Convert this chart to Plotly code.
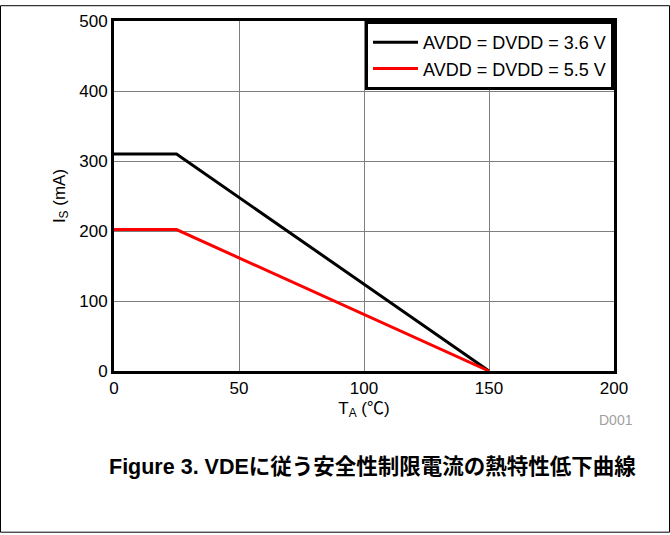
import plotly.graph_objects as go

# Safety limiting current vs ambient temperature
temp_c = [0, 25, 150]
is_36v = [310, 310, 0]
is_55v = [202, 202, 0]
series_names = ["AVDD = DVDD = 3.6 V", "AVDD = DVDD = 5.5 V"]
x_ticks = [0, 50, 100, 150, 200]
y_ticks = [0, 100, 200, 300, 400, 500]

W, H = 670, 535
ML, MR, MT, MB = 114, 56, 16, 164
PW, PH = W - ML - MR, H - MT - MB

FONT = "Liberation Sans, Arial, Noto Sans CJK JP, sans-serif"
TICK_SIZE = 17

fig = go.Figure()
fig.add_trace(go.Scatter(x=temp_c, y=is_36v, mode="lines", name=series_names[0],
                         line=dict(color="#000000", width=3)))
fig.add_trace(go.Scatter(x=temp_c, y=is_55v, mode="lines", name=series_names[1],
                         line=dict(color="#ff0000", width=3)))

axis_common = dict(showline=True, mirror=True, linecolor="#000000", linewidth=3,
                   showgrid=True, gridcolor="#7f7f7f", gridwidth=1, zeroline=False,
                   ticks="", tickfont=dict(family=FONT, size=TICK_SIZE, color="#000000"))

fig.update_xaxes(range=[0, 200], tickvals=x_ticks,
                 title=dict(text="T<sub>A</sub> (℃)", font=dict(family=FONT, size=TICK_SIZE, color="#000000"),
                            standoff=5),
                 **axis_common)
fig.update_yaxes(range=[0, 500], tickvals=y_ticks,
                 title=dict(text="I<sub>S</sub> (mA)", font=dict(family=FONT, size=TICK_SIZE, color="#000000"),
                            standoff=10),
                 **axis_common)

# outer figure frame
fig.add_shape(type="rect", xref="paper", yref="paper",
              x0=(0.5 - ML) / PW, x1=(W - 0.5 - ML) / PW,
              y0=-(H - 0.5 - MT - PH) / PH, y1=(MT + PH - 0.5) / PH,
              line=dict(color="#000000", width=1), layer="above")

fig.add_annotation(text="D001", xref="paper", yref="paper",
                   x=(635 - ML) / PW, y=-(421 - MT - PH) / PH,
                   xanchor="right", yanchor="middle", showarrow=False,
                   font=dict(family=FONT, size=14, color="#a0a0a0"))

fig.add_annotation(text="<b>Figure 3. VDEに従う安全性制限電流の熱特性低下曲線</b>",
                   xref="paper", yref="paper",
                   x=(372 - ML) / PW, y=-(468 - MT - PH) / PH,
                   xanchor="center", yanchor="middle", showarrow=False,
                   font=dict(family=FONT, size=21.5, color="#000000"))

fig.update_layout(
    width=W, height=H,
    margin=dict(l=ML, r=MR, t=MT, b=MB),
    paper_bgcolor="#ffffff", plot_bgcolor="#ffffff",
    showlegend=True,
    legend=dict(x=1, y=1, xanchor="right", yanchor="top",
                bgcolor="#ffffff", bordercolor="#000000", borderwidth=3,
                font=dict(family=FONT, size=18, color="#000000"),
                tracegroupgap=0, itemwidth=45),
    font=dict(family=FONT),
)

fig.write_html("out.html")
